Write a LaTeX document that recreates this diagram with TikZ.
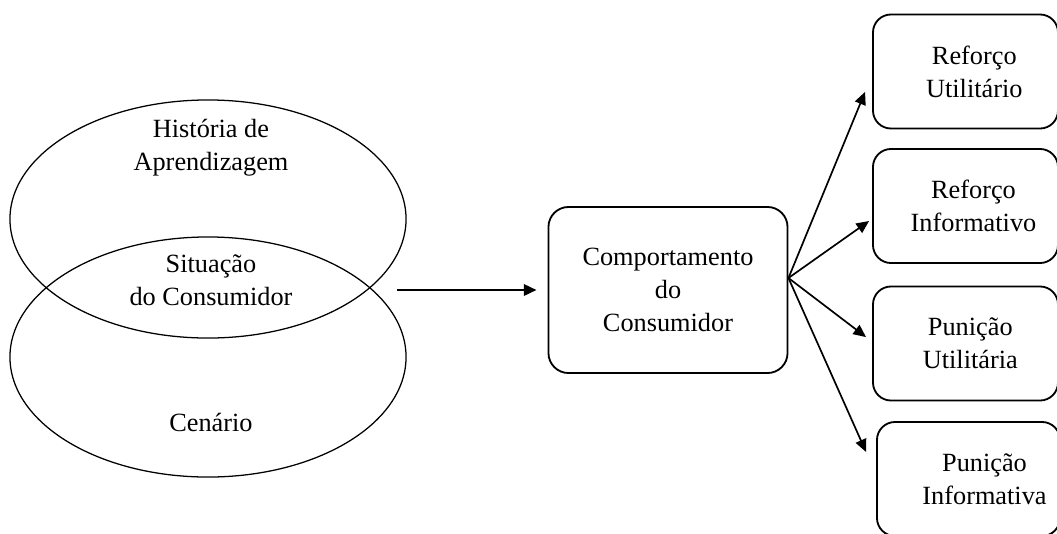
\documentclass[tikz,border=0pt]{standalone}
\usepackage{fontspec}
\setmainfont{Liberation Serif}
\usetikzlibrary{arrows.meta,positioning,shapes.geometric}

\tikzset{
  txtfont/.style={font=\fontsize{18.7}{23.4}\selectfont},
  setring/.style={draw=black,line width=0.9pt,ellipse,inner sep=0pt,
                  minimum width=9.9cm,minimum height=5.95cm},
  lbl/.style={txtfont,align=center,inner sep=0pt},
  behbox/.style={draw=black,line width=1.3pt,rounded corners=0.5cm,txtfont,
                 align=center,minimum width=5.975cm,minimum height=4.15cm},
  outbox/.style={draw=black,line width=1.3pt,rounded corners=0.45cm,
                 minimum width=4.625cm,minimum height=2.85cm},
  mainarrow/.style={-{Triangle[length=9pt,width=8pt]},line width=1.8pt},
  fanarrow/.style={-{Triangle[length=9pt,width=8pt]},line width=1.2pt}
}

\begin{document}
\begin{tikzpicture}[x=0.025cm,y=-0.025cm]
\useasboundingbox (0,0) rectangle (1057,533);

% the two overlapping sets
\node[setring] (hist) at (208,219) {};
\node[setring,minimum height=6cm] (cen) at (208,357) {};
\node[lbl] (histtxt) at (211,148) {História de\\Aprendizagem};
\node[lbl] (sittxt) at (211,280) {Situação\\do Consumidor};
\node[lbl] (centxt) at (211,422) {Cenário};

% behaviour and consequences
\node[behbox] (comp) at (668,290) {Comportamento\\do\\Consumidor};
\node[outbox] (r1) at (965.5,71.5) {};
\node[outbox] (r2) at (965.5,206) {};
\node[outbox] (p1) at (965.5,343.5) {};
\node[outbox,minimum width=4.575cm] (p2) at (968.5,479) {};
\node[lbl] (r1txt) at ([xshift=0.22cm]r1.center) {Reforço\\Utilitário};
\node[lbl] (r2txt) at ([xshift=0.2cm]r2.center) {Reforço\\Informativo};
\node[lbl] (p1txt) at ([xshift=0.12cm]p1.center) {Punição\\Utilitária};
\node[lbl] (p2txt) at ([xshift=0.4cm]p2.center) {Punição\\Informativa};

\coordinate (hstart) at (397,290);
\coordinate (fan) at ([yshift=0.3cm]comp.east);

\draw[mainarrow] (hstart) -- ([xshift=-0.275cm]comp.west);
\draw[fanarrow] (fan) -- ([xshift=-0.175cm,yshift=-0.51cm]r1.west);
\draw[fanarrow] (fan) -- ([xshift=-0.075cm,yshift=-0.375cm]r2.west);
\draw[fanarrow] (fan) -- ([xshift=-0.15cm,yshift=0.16cm]p1.west);
\draw[fanarrow] (fan) -- ([xshift=-0.25cm,yshift=0.675cm]p2.west);
\end{tikzpicture}
\end{document}
